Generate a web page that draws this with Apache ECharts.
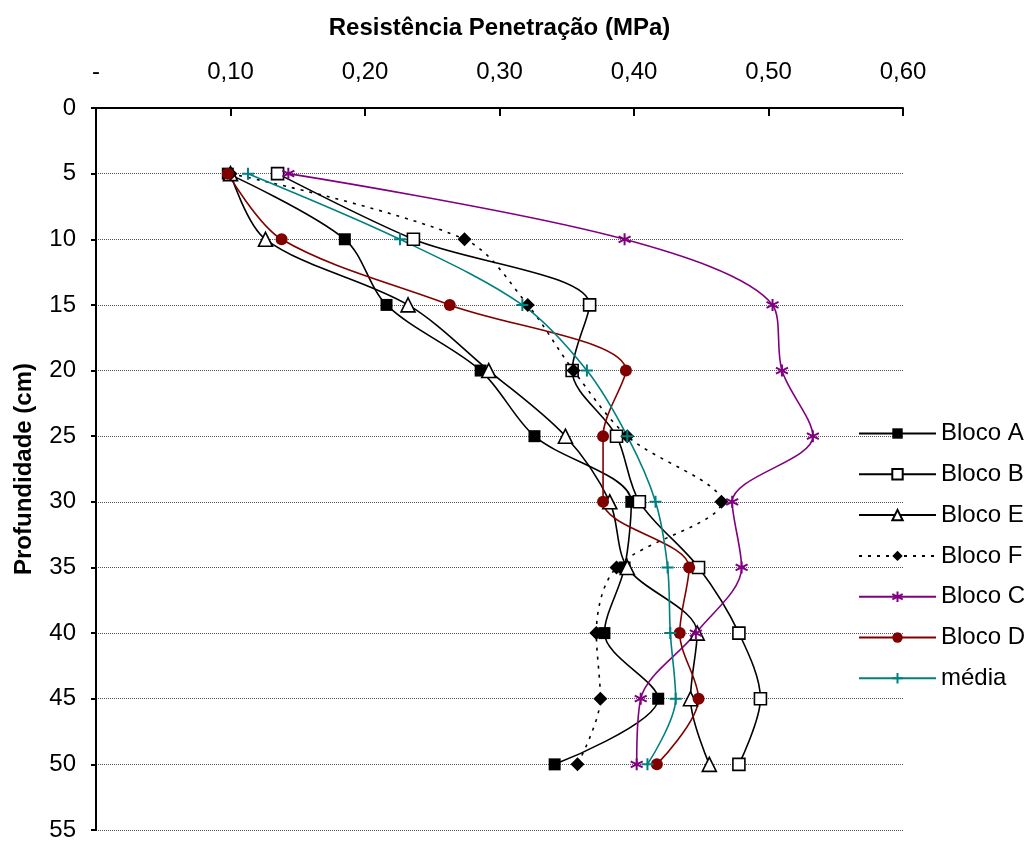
<!DOCTYPE html>
<html>
<head>
<meta charset="utf-8">
<script src="https://cdn.jsdelivr.net/npm/echarts@6/dist/echarts.min.js"></script>
<style>
html,body{margin:0;padding:0;background:#fff;}
#chart{width:1032px;height:842px;}
</style>
</head>
<body>
<div id="chart"></div>
<script>
const depths = [5, 10, 15, 20, 25, 30, 35, 40, 45, 50];
const blocoA = [0.098, 0.185, 0.216, 0.286, 0.326, 0.398, 0.393, 0.378, 0.418, 0.341];
const blocoB = [0.135, 0.236, 0.367, 0.354, 0.387, 0.404, 0.448, 0.478, 0.494, 0.478];
const blocoE = [0.100, 0.126, 0.232, 0.292, 0.349, 0.382, 0.395, 0.447, 0.442, 0.456];
const blocoF = [0.100, 0.274, 0.321, 0.355, 0.395, 0.465, 0.387, 0.372, 0.375, 0.358];
const blocoC = [0.143, 0.393, 0.503, 0.510, 0.533, 0.473, 0.480, 0.446, 0.405, 0.402];
const blocoD = [0.098, 0.138, 0.263, 0.394, 0.377, 0.377, 0.441, 0.434, 0.448, 0.417];
const media  = [0.113, 0.226, 0.317, 0.365, 0.395, 0.416, 0.425, 0.427, 0.431, 0.410];
const xTicks = ['-', '0,10', '0,20', '0,30', '0,40', '0,50', '0,60'];
const yTicks = [0, 5, 10, 15, 20, 25, 30, 35, 40, 45, 50, 55];

const FONT = 'Liberation Sans, Arial, sans-serif';
const pair = arr => arr.map((v, i) => [v, depths[i]]);

const asterisk = 'path://M0,-10 L0,10 M-8.7,-5 L8.7,5 M-8.7,5 L8.7,-5';
const plus = 'path://M0,-10 L0,10 M-10,0 L10,0';

function mk(name, data, opts) {
  return Object.assign({
    name: name,
    type: 'line',
    data: pair(data),
    smooth: 0.32,
    symbolSize: 12,
    z: 2
  }, opts);
}

const series = [
  mk('Bloco A', blocoA, {
    symbol: 'rect', symbolSize: 12,
    itemStyle: {color: '#000'},
    lineStyle: {color: '#000', width: 1.6}
  }),
  mk('Bloco B', blocoB, {
    symbol: 'rect', symbolSize: 12,
    itemStyle: {color: '#fff', borderColor: '#000', borderWidth: 1.6},
    lineStyle: {color: '#000', width: 1.6}
  }),
  mk('Bloco E', blocoE, {
    symbol: 'triangle', symbolSize: 14,
    itemStyle: {color: '#fff', borderColor: '#000', borderWidth: 1.6},
    lineStyle: {color: '#000', width: 1.6}
  }),
  mk('Bloco F', blocoF, {
    symbol: 'diamond', symbolSize: 14,
    itemStyle: {color: '#000'},
    lineStyle: {color: '#000', width: 1.6, type: [3, 6]}
  }),
  mk('Bloco C', blocoC, {
    symbol: asterisk, symbolSize: 12,
    itemStyle: {color: '#800080', borderColor: '#800080', borderWidth: 2},
    lineStyle: {color: '#800080', width: 1.6}
  }),
  mk('Bloco D', blocoD, {
    symbol: 'circle', symbolSize: 12,
    itemStyle: {color: '#800000'},
    lineStyle: {color: '#800000', width: 1.6}
  }),
  mk('média', media, {
    symbol: plus, symbolSize: 12,
    itemStyle: {color: '#008080', borderColor: '#008080', borderWidth: 2},
    lineStyle: {color: '#008080', width: 1.6}
  })
];

const chart = echarts.init(document.getElementById('chart'), null, {renderer: 'canvas'});
chart.setOption({
  animation: false,
  backgroundColor: '#fff',
  textStyle: {fontFamily: FONT},
  grid: {left: 96, top: 108, right: 129, bottom: 9, containLabel: false},
  xAxis: {
    type: 'value',
    position: 'top',
    min: 0, max: 0.6, interval: 0.1,
    name: 'Resistência Penetração (MPa)',
    nameLocation: 'middle',
    nameGap: 68,
    nameTextStyle: {fontFamily: FONT, fontSize: 24, fontWeight: 'bold', color: '#000'},
    axisLine: {show: true, lineStyle: {color: '#000', width: 2}},
    axisTick: {show: true, inside: true, length: 8, lineStyle: {color: '#000', width: 2}},
    axisLabel: {
      fontFamily: FONT, fontSize: 24, color: '#000', margin: 24,
      formatter: v => xTicks[Math.round(v * 10)]
    },
    splitLine: {show: false}
  },
  yAxis: {
    type: 'value',
    inverse: true,
    min: 0, max: 55, interval: 5,
    name: 'Profundidade (cm)',
    nameLocation: 'middle',
    nameGap: 60,
    nameRotate: 90,
    nameTextStyle: {fontFamily: FONT, fontSize: 24, fontWeight: 'bold', color: '#000'},
    axisLine: {show: true, lineStyle: {color: '#000', width: 2}},
    axisTick: {show: true, inside: false, length: 5, lineStyle: {color: '#000', width: 2}},
    axisLabel: {
      fontFamily: FONT, fontSize: 24, color: '#000', margin: 20,
      formatter: v => String(yTicks[Math.round(v / 5)])
    },
    splitLine: {show: true, lineStyle: {color: '#555', width: 1, type: [1, 1]}}
  },
  legend: {
    orient: 'vertical',
    left: 858,
    top: 420,
    padding: 0,
    itemWidth: 77,
    itemHeight: 13,
    itemGap: 13.8,
    textStyle: {fontFamily: FONT, fontSize: 24, color: '#000', lineHeight: 27},
    data: ['Bloco A', 'Bloco B', 'Bloco E', 'Bloco F', 'Bloco C', 'Bloco D', 'média']
  },
  series: series
});
</script>
</body>
</html>
